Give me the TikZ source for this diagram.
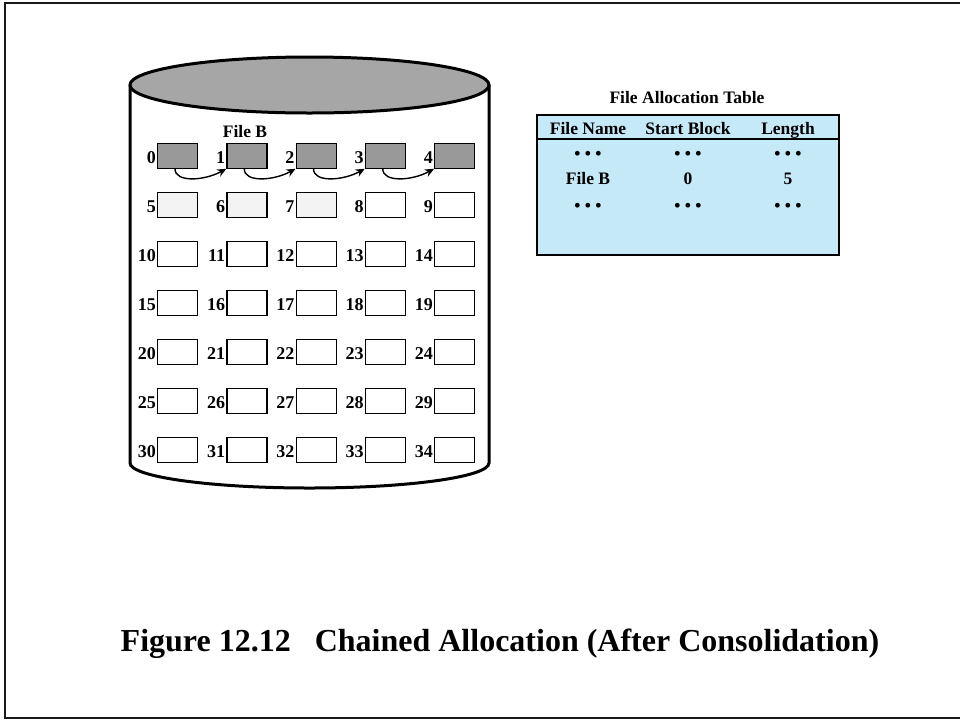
\documentclass[tikz,border=0pt]{standalone}
\usepackage{fontspec}
\setmainfont{Liberation Serif}
\usetikzlibrary{calc,arrows.meta}

\definecolor{usedblk}{HTML}{999999}
\definecolor{paleblk}{HTML}{F3F3F3}
\definecolor{disktop}{HTML}{A6A6A6}
\definecolor{fatblue}{HTML}{C6E9F8}

\tikzset{
  blk/.style={draw=black, line width=1.3pt, minimum width=40pt, minimum height=25pt,
              inner sep=0pt, anchor=north west, fill=white},
  blknum/.style={anchor=base east, inner sep=1pt, font=\fontsize{18}{18}\selectfont\bfseries},
  lbl/.style={inner sep=0pt, anchor=base, font=\fontsize{17.5}{17.5}\selectfont\bfseries},
  chain/.style={line width=1.4pt, -{Stealth[length=9pt,width=8pt]}},
}

\begin{document}
\begin{tikzpicture}[x=1pt,y=-1pt]
\useasboundingbox (0,0) rectangle (960,721);

% outer frame (open on the right)
\draw[line width=2.5pt, color=black!90] (965,3) -- (5,3) -- (5,718) -- (965,718);

% disk cylinder
\draw[line width=3pt, fill=white]
  (130,85) -- (130,463) arc[start angle=180, end angle=0, x radius=179.5, y radius=25]
  -- (489,85);
\draw[line width=3pt, fill=disktop] (309.5,85) ellipse[x radius=179.5, y radius=28];

% blocks 0..34
\foreach \r in {0,...,6}{
  \foreach \c in {0,...,4}{
    \pgfmathtruncatemacro{\n}{5*\r+\c}
    \pgfmathsetmacro{\xx}{157+69.25*\c}
    \pgfmathsetmacro{\yy}{142.5+49*\r}
    \node[blk] (b\n) at (\xx,\yy) {};
    \node[blknum] (n\n) at ($(b\n.west)+(0,8)$) {\n};
  }
}
\foreach \n in {0,...,4}{ \path (b\n) node[blk, anchor=center, fill=usedblk] {}; }
\foreach \n in {5,6,7}{ \path (b\n) node[blk, anchor=center, fill=paleblk] {}; }

\node[lbl] (fileb) at (245,137) {File B};

% chain pointers
\foreach \a/\b in {0/1,1/2,2/3,3/4}{
  \coordinate (s\a) at ($(b\a.south west)+(18,0)$);
  \draw[chain] (s\a) .. controls ($(s\a)+(0,14)$) and ($(b\b.south west)+(-22,12)$) .. (b\b.south west);
}

% file allocation table
\node[lbl] (fattitle) at (687,103) {File Allocation Table};
\draw[line width=1.5pt, fill=fatblue] (537,115) rectangle (839,255);
\draw[line width=1.5pt] (537,139) -- (839,139);
\node[lbl] (h1) at (588,134) {File Name};
\node[lbl] (h2) at (688,134) {Start Block};
\node[lbl] (h3) at (788,134) {Length};
\node[lbl] (d11) at (588,159) {• • •};
\node[lbl] (d12) at (688,159) {• • •};
\node[lbl] (d13) at (788,159) {• • •};
\node[lbl] (r1) at (588,184) {File B};
\node[lbl] (r2) at (688,184) {0};
\node[lbl] (r3) at (788,184) {5};
\node[lbl] (d21) at (588,211) {• • •};
\node[lbl] (d22) at (688,211) {• • •};
\node[lbl] (d23) at (788,211) {• • •};

% caption
\node[inner sep=0pt, anchor=base, font=\fontsize{32}{32}\selectfont\bfseries] (cap) at (500,651)
  {Figure 12.12\hspace{0.5em} Chained Allocation (After Consolidation)};
\end{tikzpicture}
\end{document}
